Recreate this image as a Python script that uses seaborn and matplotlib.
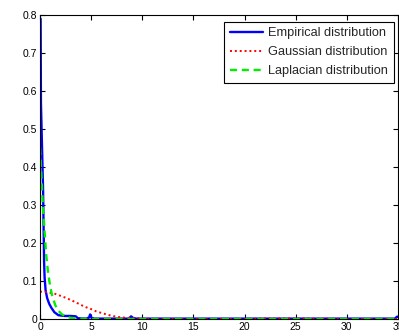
import matplotlib

matplotlib.use("Agg")
import matplotlib.pyplot as plt
import pandas as pd
import seaborn as sns

# values
emp_x = [0, 0.06, 0.09, 0.2, 0.3, 0.4, 0.45, 0.55, 0.7, 0.9, 1.1, 1.4, 1.8, 2.4, 3.0, 3.5, 3.7,
         4.5, 4.8, 4.9, 5.0, 5.3, 8.7, 8.9, 9.1, 9.4, 34.7, 34.9, 35]
emp_y = [0.79, 0.79, 0.57, 0.45, 0.34, 0.15, 0.11, 0.075, 0.055, 0.04, 0.03, 0.018, 0.01, 0.008,
         0.008, 0.007, 0.002, 0.001, 0.004, 0.012, 0.004, 0.001, 0.001, 0.007, 0.003, 0.001,
         0.001, 0.006, 0.006]

gauss_x = [0, 0.5, 1, 1.5, 2, 2.5, 3, 3.5, 4, 4.5, 5, 5.5, 6, 6.5, 7, 7.5, 8, 9, 10, 12, 15,
           20, 22, 25, 27, 30, 35]
gauss_y = [0.072, 0.071, 0.069, 0.066, 0.061, 0.056, 0.050, 0.044, 0.037, 0.031, 0.026, 0.020,
           0.016, 0.012, 0.0085, 0.006, 0.004, 0.0026, 0.001, 0.0002, 0, 0, 0.0015, 0.0015,
           0.001, 0, 0]

lap_x = [0, 0.1, 0.2, 0.3, 0.4, 0.5, 0.6, 0.8, 1.0, 1.2, 1.5, 1.8, 2.1, 2.5, 3, 3.5, 4, 5, 7,
         10, 20, 35]
lap_y = [0.45, 0.40, 0.34, 0.29, 0.25, 0.21, 0.17, 0.12, 0.085, 0.06, 0.036, 0.022, 0.013,
         0.007, 0.003, 0.0015, 0.0007, 0.0002, 0, 0, 0, 0]

x_ticks = [0, 5, 10, 15, 20, 25, 30, 35]
y_ticks = [0, 0.1, 0.2, 0.3, 0.4, 0.5, 0.6, 0.7, 0.8]
y_labels = ["0", "0.1", "0.2", "0.3", "0.4", "0.5", "0.6", "0.7", "0.8"]


def main() -> None:
    sns.set_style("ticks")
    plt.rcParams["font.family"] = ["Liberation Sans", "DejaVu Sans"]
    plt.rcParams["xtick.direction"] = "in"
    plt.rcParams["ytick.direction"] = "in"

    fig = plt.figure(figsize=(3.99, 3.36), dpi=100)
    ax = fig.add_axes([40 / 399, 17 / 336, 358 / 399, 304 / 336])

    sns.lineplot(data=pd.DataFrame({"x": emp_x, "y": emp_y}), x="x", y="y", ax=ax,
                 color="#0000ff", linewidth=1.7, label="Empirical distribution",
                 estimator=None, sort=False)
    sns.lineplot(data=pd.DataFrame({"x": gauss_x, "y": gauss_y}), x="x", y="y", ax=ax,
                 color="#ff0000", linewidth=1.4, linestyle=(0, (1, 1.5)),
                 label="Gaussian distribution", estimator=None, sort=False)
    sns.lineplot(data=pd.DataFrame({"x": lap_x, "y": lap_y}), x="x", y="y", ax=ax,
                 color="#00ee00", linewidth=1.7, linestyle=(0, (3, 2)),
                 label="Laplacian distribution", estimator=None, sort=False)

    ax.set_xlim(0, 35)
    ax.set_ylim(0, 0.8)
    ax.set_xticks(x_ticks)
    ax.set_xticklabels([str(t) for t in x_ticks])
    ax.set_yticks(y_ticks)
    ax.set_yticklabels(y_labels)
    ax.set_xlabel("")
    ax.set_ylabel("")
    ax.tick_params(axis="both", labelsize=7.5, length=3.5, width=0.8, colors="black",
                   top=True, right=True, pad=2)
    for side in ax.spines.values():
        side.set_visible(True)
        side.set_color("black")
        side.set_linewidth(0.8)

    leg = ax.legend(loc="upper right", bbox_to_anchor=(0.988, 0.978), fontsize=9.2,
                    frameon=True, fancybox=False, framealpha=1, edgecolor="black",
                    handlelength=2.6, handletextpad=0.4, borderpad=0.45,
                    labelspacing=0.55, borderaxespad=0)
    leg.get_frame().set_linewidth(0.8)

    fig.savefig("out.png", dpi=100)
    plt.close(fig)


if __name__ == "__main__":
    main()
